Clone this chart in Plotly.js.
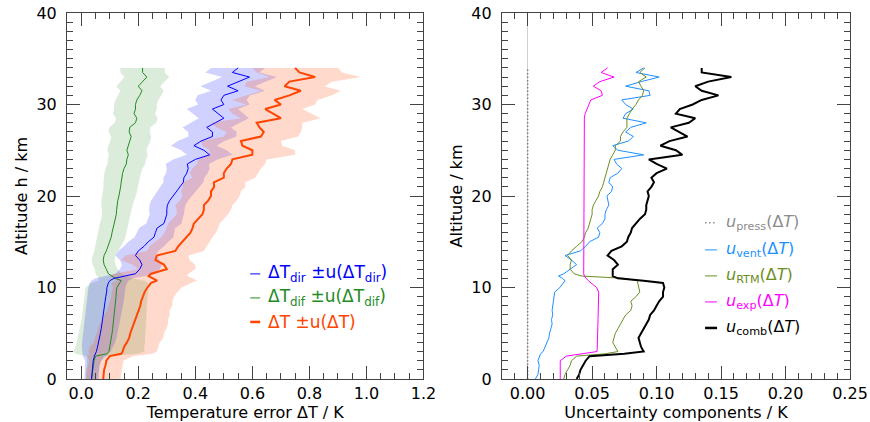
<!DOCTYPE html>
<html><head><meta charset="utf-8">
<script src="https://cdn.plot.ly/plotly-3.0.1.min.js"></script>
<style>html,body{margin:0;padding:0;background:#fff}#chart{width:870px;height:422px}</style>
</head><body><div id="chart"></div>
<script>
// Altitude grid (km)
const altitude = [0,0.5,1,1.5,2,2.5,2.75,
3,3.5,4,4.5,5,5.5,6,6.5,7,7.5,8,8.5,9,9.5,10,
10.5,10.75,11,11.25,11.5,
12,12.5,13,13.5,14,14.5,15,15.5,16,16.5,17,17.5,18,18.5,19,19.5,20,20.5,21,21.5,22,22.5,23,23.5,24,24.5,25,25.5,26,26.5,27,27.5,28,28.5,29,29.5,30,30.5,31,31.5,32,32.5,33,33.5,34];

// Left panel: temperature errors (K) and their uncertainties
const dT = [0.077,0.078,0.080,0.085,0.088,0.10,0.14,
0.145,0.15,0.16,0.168,0.172,0.178,0.184,0.19,0.195,0.20,0.207,0.21,0.215,0.222,0.232,
0.245,0.266,0.25,0.236,0.245,
0.30,0.29,0.26,0.265,0.33,0.34,0.354,0.37,0.383,0.39,0.395,0.41,0.425,0.43,0.43,0.445,0.455,0.455,0.466,0.465,0.50,0.50,0.51,0.525,0.53,0.60,0.60,0.565,0.56,0.63,0.64,0.625,0.615,0.70,0.67,0.645,0.70,0.678,0.73,0.77,0.713,0.73,0.82,0.765,0.75];
const u_dT = [0.06,0.06,0.062,0.06,0.06,0.08,0.11,
0.12,0.12,0.115,0.12,0.118,0.12,0.12,0.115,0.115,0.11,0.112,0.11,0.11,0.115,0.12,
0.14,0.14,0.14,0.135,0.13,
0.10,0.11,0.12,0.11,0.10,0.10,0.095,0.09,0.09,0.09,0.09,0.09,0.09,0.095,0.10,0.10,0.10,0.105,0.11,0.11,0.11,0.12,0.12,0.12,0.12,0.15,0.15,0.14,0.14,0.13,0.13,0.15,0.16,0.14,0.14,0.13,0.12,0.15,0.15,0.14,0.14,0.15,0.16,0.15,0.15];
const dT_dir = [0.036,0.037,0.038,0.040,0.042,0.046,0.05,
0.053,0.057,0.061,0.064,0.067,0.07,0.072,0.075,0.077,0.08,0.082,0.084,0.086,0.089,0.09,
0.095,0.10,0.115,0.155,0.19,
0.205,0.213,0.205,0.19,0.20,0.22,0.235,0.255,0.26,0.266,0.29,0.295,0.30,0.30,0.302,0.31,0.322,0.335,0.345,0.358,0.36,0.37,0.375,0.372,0.40,0.45,0.43,0.395,0.42,0.46,0.46,0.44,0.47,0.50,0.48,0.46,0.50,0.49,0.50,0.55,0.513,0.55,0.59,0.53,0.55];
const u_dir = [0.025,0.025,0.025,0.025,0.028,0.04,0.045,
0.05,0.055,0.058,0.06,0.06,0.062,0.062,0.063,0.063,0.064,0.064,0.065,0.065,0.065,0.065,
0.065,0.065,0.065,0.068,0.07,
0.07,0.07,0.07,0.07,0.07,0.07,0.07,0.068,0.065,0.063,0.062,0.06,0.06,0.062,0.063,0.065,0.066,0.068,0.07,0.07,0.072,0.073,0.075,0.076,0.078,0.08,0.08,0.08,0.082,0.084,0.085,0.085,0.086,0.088,0.088,0.09,0.09,0.09,0.092,0.094,0.095,0.095,0.096,0.095,0.095];
const dT_dif = [0.036,0.038,0.040,0.042,0.045,0.05,0.09,
0.097,0.10,0.104,0.106,0.108,0.11,0.112,0.114,0.115,0.117,0.118,0.12,0.122,0.123,0.125,
0.135,0.14,0.12,0.107,0.095,
0.088,0.08,0.077,0.08,0.088,0.094,0.10,0.105,0.108,0.112,0.115,0.12,0.123,0.124,0.125,0.128,0.132,0.136,0.138,0.14,0.142,0.145,0.15,0.158,0.16,0.165,0.16,0.165,0.172,0.175,0.168,0.17,0.19,0.195,0.185,0.19,0.19,0.195,0.205,0.213,0.20,0.215,0.23,0.215,0.215];
const u_dif = [0.02,0.02,0.02,0.022,0.025,0.03,0.11,
0.125,0.12,0.12,0.118,0.116,0.115,0.114,0.113,0.112,0.112,0.112,0.111,0.11,0.11,0.11,
0.1,0.08,0.06,0.05,0.045,
0.04,0.04,0.04,0.04,0.042,0.045,0.048,0.05,0.05,0.05,0.05,0.05,0.05,0.052,0.055,0.057,0.058,0.06,0.06,0.062,0.063,0.064,0.065,0.066,0.067,0.068,0.068,0.07,0.07,0.07,0.072,0.072,0.073,0.073,0.074,0.075,0.075,0.075,0.076,0.076,0.077,0.077,0.078,0.078,0.078];

// Right panel: uncertainty components (K)
const alt_press = [0, 34];
const u_press = [0, 0];
const u_vent = [0.006,0.008,0.0085,0.009,0.008,0.0095,0.01,
0.012,0.0135,0.015,0.0165,0.017,0.018,0.019,0.0185,0.0195,0.019,0.0195,0.02,0.0205,0.021,0.025,
0.028,0.029,0.027,0.024,0.028,
0.033,0.038,0.034,0.029,0.041,0.045,0.048,0.055,0.056,0.054,0.058,0.06,0.06,0.061,0.063,0.062,0.0615,0.065,0.066,0.063,0.064,0.07,0.073,0.069,0.067,0.09,0.07,0.066,0.078,0.082,0.076,0.08,0.092,0.074,0.076,0.082,0.076,0.073,0.095,0.094,0.076,0.088,0.102,0.084,0.09];
const u_RTM = [0.028,0.029,0.031,0.033,0.034,0.038,0.06,
0.07,0.068,0.066,0.067,0.068,0.07,0.072,0.074,0.076,0.08,0.081,0.08,0.084,0.087,0.086,
0.085,0.085,0.075,0.042,0.036,
0.033,0.033,0.034,0.031,0.034,0.038,0.042,0.044,0.045,0.047,0.048,0.049,0.05,0.05,0.051,0.053,0.055,0.056,0.058,0.059,0.06,0.061,0.062,0.063,0.064,0.066,0.068,0.068,0.072,0.072,0.074,0.077,0.077,0.077,0.079,0.081,0.084,0.086,0.089,0.09,0.088,0.086,0.092,0.087,0.091];
const u_exp = [0.0253,0.0253,0.0253,0.0253,0.0253,0.03,0.042,
0.0538,0.054,0.054,0.0542,0.0543,0.0544,0.0545,0.0546,0.0547,0.0548,0.0549,0.055,0.055,0.0551,0.0535,
0.049,0.047,0.0455,0.044,0.0435,
0.0435,0.0435,0.0435,0.0435,0.0435,0.0435,0.0435,0.0435,0.0435,0.0435,0.0435,0.0435,0.0435,0.0435,0.0435,0.0435,0.0435,0.0435,0.0435,0.0435,0.0435,0.0435,0.0435,0.0435,0.0435,0.0435,0.0435,0.0435,0.0435,0.0435,0.0435,0.0435,0.0435,0.044,0.0446,0.046,0.048,0.049,0.058,0.057,0.051,0.056,0.067,0.057,0.062];
const u_comb = [0.038,0.040,0.041,0.043,0.045,0.048,0.075,
0.09,0.088,0.087,0.086,0.088,0.09,0.092,0.094,0.095,0.098,0.10,0.102,0.105,0.105,0.106,
0.105,0.09,0.07,0.066,0.066,
0.066,0.07,0.067,0.062,0.065,0.073,0.077,0.078,0.08,0.081,0.084,0.087,0.091,0.092,0.092,0.093,0.094,0.093,0.096,0.098,0.096,0.10,0.108,0.10,0.094,0.12,0.115,0.103,0.11,0.124,0.118,0.111,0.125,0.13,0.115,0.118,0.128,0.135,0.148,0.135,0.13,0.14,0.158,0.135,0.135];

// Labels
const leftLegend = ['ΔT<sub>dir</sub> ±u(ΔT<sub>dir</sub>)','ΔT<sub>dif</sub> ±u(ΔT<sub>dif</sub>)','ΔT ±u(ΔT)'];
const rightLegend = ['<i>u</i><sub>press</sub>(Δ<i>T</i>)','<i>u</i><sub>vent</sub>(Δ<i>T</i>)','<i>u</i><sub>RTM</sub>(Δ<i>T</i>)','<i>u</i><sub>exp</sub>(Δ<i>T</i>)','<i>u</i><sub>comb</sub>(Δ<i>T</i>)'];

const C_DIR='#0000ff', C_DIF='#228b22', C_DT='#ff4500';
const C_PRESS='#8c8c8c', C_VENT='#1e90ff', C_RTM='#6b8e23', C_EXP='#ff00ff', C_COMB='#000000';

function band(center, u, fill){
  const lo = center.map((v,i)=>v-u[i]);
  const hi = center.map((v,i)=>v+u[i]);
  return {x: lo.concat(hi.slice().reverse()), y: altitude.concat(altitude.slice().reverse()),
    type:'scatter', mode:'lines', fill:'toself', fillcolor:fill, line:{width:0}, hoverinfo:'skip',
    xaxis:'x', yaxis:'y', showlegend:false};
}
function line(x, y, color, width, dash, xa, ya){
  return {x:x, y:y, type:'scatter', mode:'lines', line:{color:color, width:width, dash:dash||'solid'},
    xaxis:xa, yaxis:ya, showlegend:false};
}

const traces = [
  band(dT_dif, u_dif, 'rgba(34,139,34,0.16)'),
  band(dT_dir, u_dir, 'rgba(0,0,255,0.18)'),
  band(dT, u_dT, 'rgba(255,69,0,0.2)'),
  line(dT_dif, altitude, C_DIF, 1, null, 'x', 'y'),
  line(dT_dir, altitude, C_DIR, 1, null, 'x', 'y'),
  line(dT, altitude, C_DT, 2, null, 'x', 'y'),
  line(u_press, alt_press, '#808080', 1.5, '1.5px,2px', 'x2', 'y2'),
  line(u_vent, altitude, C_VENT, 1, null, 'x2', 'y2'),
  line(u_RTM, altitude, C_RTM, 1, null, 'x2', 'y2'),
  line(u_exp, altitude, C_EXP, 1, null, 'x2', 'y2'),
  line(u_comb, altitude, C_COMB, 2, null, 'x2', 'y2'),
];

const PL=66.7, PR=850, PT=13.3, PB=379;
const W=PR-PL, H=PB-PT;
const px = v => (v-PL)/W;
const py = v => (PB-v)/H;

const FRAME='#444';
function xax(domain, range, dtick, minor, fmt, title, anchor, zl){
  return {domain:domain, range:range, tick0:0, dtick:dtick, tickformat:fmt, ticks:'inside', ticklen:13, tickwidth:1, tickcolor:FRAME,
    minor:{dtick:minor, tick0:0, ticks:'inside', ticklen:6, tickwidth:1, tickcolor:FRAME},
    showline:true, linecolor:FRAME, linewidth:1, mirror:'ticks', showgrid:false,
    zeroline:!!zl, zerolinecolor:'#d0d0d0', zerolinewidth:1,
    tickfont:{size:16, color:'#000'}, title:{text:title, font:{size:16, color:'#000'}, standoff:2}, anchor:anchor, fixedrange:true};
}
function yax(title, anchor){
  return {domain:[0,1], range:[0,40], tick0:0, dtick:10, ticks:'inside', ticklen:13, tickwidth:1, tickcolor:FRAME,
    minor:{dtick:1, tick0:0, ticks:'inside', ticklen:6, tickwidth:1, tickcolor:FRAME},
    showline:true, linecolor:FRAME, linewidth:1, mirror:'ticks', showgrid:false, zeroline:false,
    tickfont:{size:16, color:'#000'}, ticklabelstandoff:6, title:{text:title, font:{size:16, color:'#000'}, standoff:4}, anchor:anchor, fixedrange:true};
}

const shapes=[], annotations=[];
const leftColors=[C_DIR, C_DIF, C_DT], leftWidths=[1,1,2.5], leftRows=[274,298,322];
leftLegend.forEach((t,i)=>{
  shapes.push({type:'line', xref:'paper', yref:'paper', x0:px(250), x1:px(260), y0:py(leftRows[i]), y1:py(leftRows[i]), line:{color:leftColors[i], width:leftWidths[i]}});
  annotations.push({xref:'paper', yref:'paper', x:px(266), y:py(leftRows[i]), xanchor:'left', yanchor:'middle', text:t, showarrow:false, font:{size:17, color:leftColors[i]}});
});
const rightColors=[C_PRESS, C_VENT, C_RTM, C_EXP, C_COMB], rightWidths=[1.5,1,1,1,2.5], rightRows=[223,250,276,302,328];
rightLegend.forEach((t,i)=>{
  shapes.push({type:'line', xref:'paper', yref:'paper', x0:px(705), x1:px(717), y0:py(rightRows[i]), y1:py(rightRows[i]), line:{color:rightColors[i], width:rightWidths[i], dash: i===0?'1.5px,2.5px':'solid'}});
  annotations.push({xref:'paper', yref:'paper', x:px(724), y:py(rightRows[i]), xanchor:'left', yanchor:'middle', text:t, showarrow:false, font:{size:16, color:rightColors[i]}});
});

const layout = {
  width:870, height:422, margin:{l:PL, r:870-PR, t:PT, b:422-PB}, paper_bgcolor:'#fff', plot_bgcolor:'#fff',
  font:{family:'DejaVu Sans', size:16, color:'#000'}, showlegend:false,
  xaxis: xax([0,(423.3-PL)/W], [-0.05,1.2], 0.2, 0.05, '.1f', 'Temperature error ΔT / K', 'y', false),
  yaxis: yax('Altitude h / km', 'x'),
  xaxis2: xax([(501.7-PL)/W,1], [-0.02,0.25], 0.05, 0.01, '.2f', 'Uncertainty components / K', 'y2', true),
  yaxis2: yax('Altitude / km', 'x2'),
  shapes:shapes, annotations:annotations
};
Plotly.newPlot('chart', traces, layout, {staticPlot:true, displayModeBar:false});
</script></body></html>
